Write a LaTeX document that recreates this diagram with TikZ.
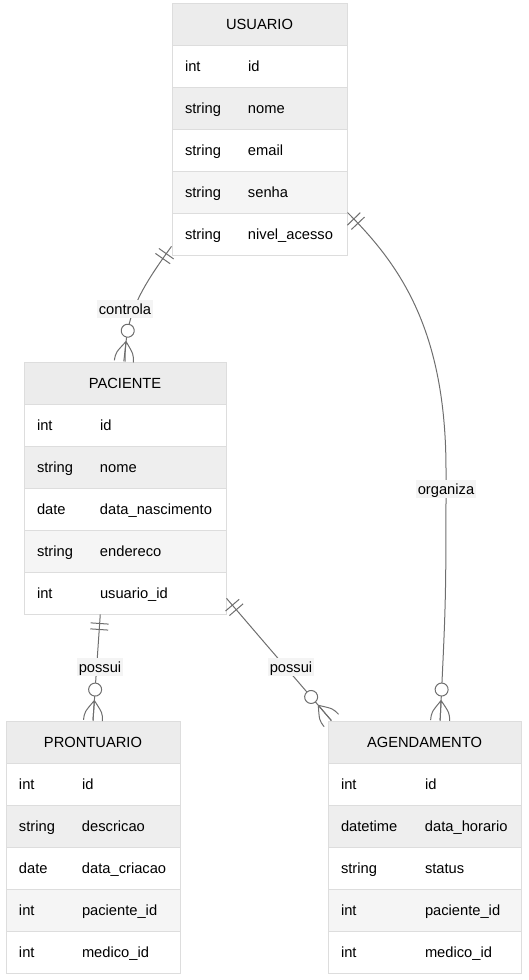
\documentclass[tikz,border=0pt]{standalone}
\usepackage{fontspec}
\setmainfont{Liberation Sans}
\usetikzlibrary{positioning, decorations.markings}

\definecolor{headbg}{RGB}{236,236,236}
\definecolor{rowA}{RGB}{238,238,238}
\definecolor{rowB}{RGB}{245,245,245}
\definecolor{edgegray}{RGB}{221,221,221}
\definecolor{linegray}{RGB}{110,110,110}
\definecolor{lblbg}{RGB}{244,244,244}

\begin{document}
\begin{tikzpicture}[x=1pt, y=-1pt,
        font=\fontsize{14.7}{17}\selectfont,
        ehead/.style={draw=edgegray, line width=1pt, fill=headbg, minimum width=#1, minimum height=42pt, inner sep=0pt},
        eattr/.style={draw=edgegray, line width=1pt, minimum height=42pt, inner xsep=13pt, inner ysep=0pt, text width=#1, align=left, text height=10.5pt, text depth=0pt},
        mk/.style={draw=linegray, line width=1pt},
        rel/.style={draw=linegray, line width=1pt, postaction={decorate}, decoration={markings,
            mark=at position 9pt with {\draw[mk] (0,-9) -- (0,9);},
            mark=at position 15pt with {\draw[mk] (0,-9) -- (0,9);},
            mark=at position -31pt with {\draw[mk, fill=white] (0,0) circle[radius=6.5];},
            mark=at position -20pt with {\draw[mk] (0,0) -- (20,0) (0,0) .. controls (12,9) .. (20,9.5) (0,0) .. controls (12,-9) .. (20,-9.5);}}},
        lbl/.style={fill=lblbg, inner xsep=1.5pt, inner ysep=3.5pt, text height=10.5pt, text depth=0pt}
        ]
        \useasboundingbox (0,0) rectangle (528,980);

        % USUARIO
        \node[ehead=175pt] (U) at (259.5,24) {USUARIO};
        \foreach \t/\n/\c [count=\i] in {int/id/white, string/nome/rowA, string/email/white, string/senha/rowB, string/nivel\_acesso/white}
            \node[eattr=149pt, fill=\c] (U\i) at (259.5,{24+42*\i}) {\makebox[63pt][l]{\t}\n};

        % PACIENTE
        \node[ehead=202pt] (P) at (125,383) {PACIENTE};
        \foreach \t/\n/\c [count=\i] in {int/id/white, string/nome/rowA, date/data\_nascimento/white, string/endereco/rowB, int/usuario\_id/white}
            \node[eattr=176pt, fill=\c] (P\i) at (125,{383+42*\i}) {\makebox[63pt][l]{\t}\n};

        % PRONTUARIO
        \node[ehead=174pt] (R) at (93,742) {PRONTUARIO};
        \foreach \t/\n/\c [count=\i] in {int/id/white, string/descricao/rowA, date/data\_criacao/white, int/paciente\_id/rowB, int/medico\_id/white}
            \node[eattr=148pt, fill=\c] (R\i) at (93,{742+42*\i}) {\makebox[63pt][l]{\t}\n};

        % AGENDAMENTO
        \node[ehead=193pt] (A) at (424.5,742) {AGENDAMENTO};
        \foreach \t/\n/\c [count=\i] in {int/id/white, datetime/data\_horario/rowA, string/status/white, int/paciente\_id/rowB, int/medico\_id/white}
            \node[eattr=167pt, fill=\c] (A\i) at (424.5,{742+42*\i}) {\makebox[84pt][l]{\t}\n};

        % Relationships
        \draw[rel] (U5.188) .. controls (140,290) and (125,315) .. (P.north);
        \draw[rel] (U5.north east) .. controls (400,265) and (446,330) .. (446,470) .. controls (446,600) .. (A.54);
        \draw[rel] (P5.221) -- (R.north);
        \draw[rel] (P5.-3) -- (A.167);

        % Relationship labels
        \node[lbl] (l1) at (125,309) {controla};
        \node[lbl] (l2) at (446,489) {organiza};
        \node[lbl] (l3) at (100,667) {possui};
        \node[lbl] (l4) at (291,667) {possui};

    \end{tikzpicture}
\end{document}
